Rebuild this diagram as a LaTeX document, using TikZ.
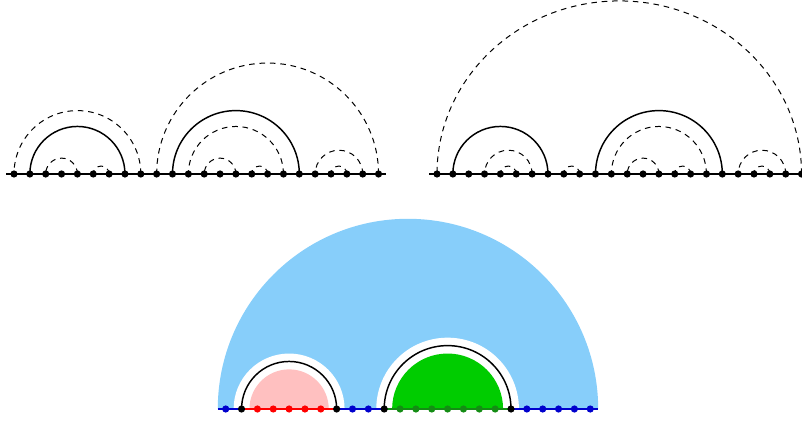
\documentclass[tikz,border=0pt]{standalone}
\definecolor{skyfill}{RGB}{135,206,250}
\definecolor{pinkfill}{RGB}{255,192,192}
\definecolor{greenfill}{RGB}{0,204,0}
\definecolor{dotblue}{RGB}{0,0,205}
\definecolor{dotred}{RGB}{255,0,0}
\definecolor{dotgreen}{RGB}{20,140,20}
\begin{document}
\begin{tikzpicture}[x=0.75pt,y=0.75pt,
  baseline/.style={line width=0.85pt},
  solidarc/.style={line width=1.1pt},
  dasharc/.style={line width=0.75pt, dash pattern=on 4.2pt off 3.6pt},
  dotnode/.style={circle, fill=#1, inner sep=0pt, minimum size=5.4pt},
]
\useasboundingbox (0,0) rectangle (802,421);

% ---------- top left ----------
\begin{scope}[shift={(14,247)}, x=11.8875pt, y=11.8875pt]
  \draw[baseline] (-0.5,0) -- (23.5,0);
  \foreach \i in {0,...,23} \node[dotnode=black] (L\i) at (\i,0) {};
  \foreach \a/\b/\s in {1/7/solidarc, 10/18/solidarc,
      0/8/dasharc, 2/4/dasharc, 5/6/dasharc, 9/23/dasharc, 11/17/dasharc,
      12/14/dasharc, 15/16/dasharc, 19/22/dasharc, 20/21/dasharc}
    \draw[\s] (L\b.center) arc[start angle=0, end angle=180, radius={(\b-\a)/2}];
\end{scope}

% ---------- top right ----------
\begin{scope}[shift={(437,247)}, x=11.8875pt, y=11.8875pt]
  \draw[baseline] (-0.5,0) -- (23.5,0);
  \foreach \i in {0,...,23} \node[dotnode=black] (R\i) at (\i,0) {};
  \foreach \a/\b/\s in {1/7/solidarc, 10/18/solidarc,
      3/6/dasharc, 4/5/dasharc, 8/9/dasharc, 11/17/dasharc,
      12/14/dasharc, 15/16/dasharc, 19/22/dasharc, 20/21/dasharc}
    \draw[\s] (R\b.center) arc[start angle=0, end angle=180, radius={(\b-\a)/2}];
  \draw[dasharc] (R23.center) arc[start angle=0, end angle=180, x radius=11.5, y radius=10.92];
\end{scope}

% ---------- bottom ----------
\begin{scope}[shift={(225.7,12)}, x=11.8875pt, y=11.8875pt]
  \fill[skyfill] (23.5,0) arc[start angle=0, end angle=180, radius=12] -- cycle;
  \fill[white] (7.5,0) arc[start angle=0, end angle=180, radius=3.5] -- cycle;
  \fill[white] (18.5,0) arc[start angle=0, end angle=180, radius=4.5] -- cycle;
  \fill[pinkfill] (6.5,0) arc[start angle=0, end angle=180, radius=2.5] -- cycle;
  \fill[greenfill] (17.5,0) arc[start angle=0, end angle=180, radius=3.5] -- cycle;
  \draw[baseline, dotblue] (-0.5,0) -- (1,0);
  \draw[baseline, dotred] (1,0) -- (7,0);
  \draw[baseline, dotblue] (7,0) -- (10,0);
  \draw[baseline, dotgreen] (10,0) -- (18,0);
  \draw[baseline, dotblue] (18,0) -- (23.5,0);
  \foreach \i/\c in {0/dotblue, 1/black, 2/dotred, 3/dotred, 4/dotred, 5/dotred,
      6/dotred, 7/black, 8/dotblue, 9/dotblue, 10/black, 11/dotgreen, 12/dotgreen,
      13/dotgreen, 14/dotgreen, 15/dotgreen, 16/dotgreen, 17/dotgreen, 18/black,
      19/dotblue, 20/dotblue, 21/dotblue, 22/dotblue, 23/dotblue}
    \node[dotnode=\c] (B\i) at (\i,0) {};
  \draw[solidarc] (B7.center) arc[start angle=0, end angle=180, radius=3];
  \draw[solidarc] (B18.center) arc[start angle=0, end angle=180, radius=4];
\end{scope}
\end{tikzpicture}
\end{document}
